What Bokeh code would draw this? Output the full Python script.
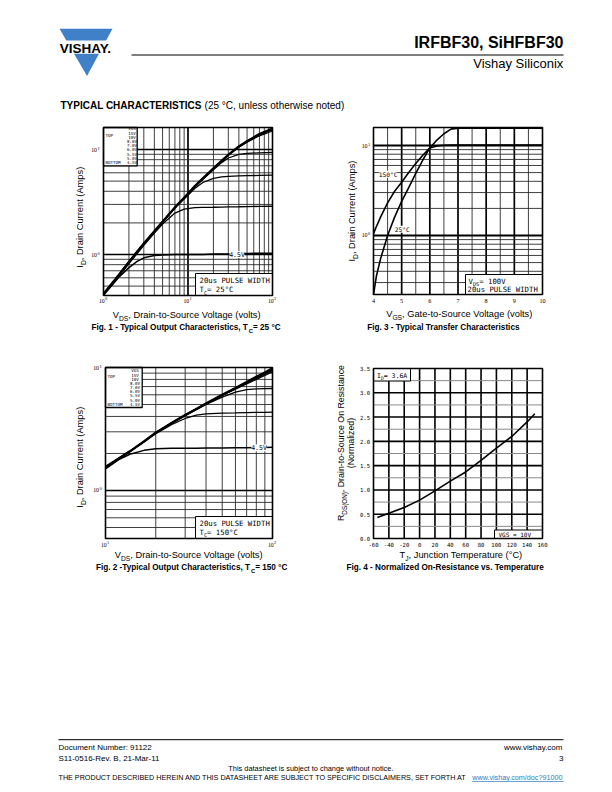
import math
from bokeh.plotting import figure
from bokeh.models import Range1d, LogScale, LinearScale, ColumnDataSource
from bokeh.core.properties import value
from bokeh.embed import file_html
from bokeh.resources import INLINE

# ===================== DATA =====================
# Fig. 1 - Typical Output Characteristics, Tc = 25 C  (VDS [V] -> ID [A])
fig1_vds = [1, 1.5, 2, 2.5, 3, 4, 5, 7, 9, 12, 15, 20, 25, 30, 40, 50, 70, 100]
fig1_id_15v = [0.42, 0.63, 0.85, 1.06, 1.27, 1.66, 2.05, 2.8, 3.47, 4.45, 5.3, 6.6, 7.8, 8.9, 10.7, 12.0, 14.0, 15.8]
fig1_id_10v = [0.42, 0.63, 0.85, 1.06, 1.27, 1.66, 2.05, 2.8, 3.47, 4.45, 5.3, 6.6, 7.8, 8.9, 10.7, 12.0, 13.95, 15.7]
fig1_id_8v = [0.42, 0.63, 0.85, 1.06, 1.27, 1.66, 2.05, 2.8, 3.47, 4.44, 5.29, 6.58, 7.78, 8.87, 10.65, 11.9, 13.8, 15.4]
fig1_id_7v = [0.42, 0.63, 0.85, 1.06, 1.27, 1.66, 2.05, 2.8, 3.46, 4.43, 5.27, 6.55, 7.74, 8.8, 10.5, 11.7, 13.5, 15.0]
fig1_id_6v = [0.42, 0.63, 0.85, 1.06, 1.27, 1.66, 2.05, 2.8, 3.45, 4.4, 5.2, 6.4, 7.5, 8.3, 9.0, 9.2, 9.3, 9.4]
fig1_id_55v = [0.42, 0.63, 0.85, 1.06, 1.27, 1.66, 2.04, 2.77, 3.38, 4.25, 4.85, 5.3, 5.48, 5.55, 5.6, 5.63, 5.66, 5.7]
fig1_id_5v = [0.41, 0.61, 0.82, 1.02, 1.22, 1.6, 1.95, 2.48, 2.7, 2.79, 2.81, 2.82, 2.83, 2.84, 2.85, 2.86, 2.87, 2.88]
fig1_id_45v = [0.41, 0.6, 0.75, 0.86, 0.93, 0.98, 0.99, 1.0, 1.0, 1.0, 1.0, 1.01, 1.01, 1.01, 1.02, 1.02, 1.03, 1.03]

# Fig. 2 - Typical Output Characteristics, Tc = 150 C
fig2_vds = [10, 12, 14, 17, 20, 25, 30, 35, 40, 50, 60, 70, 80, 90, 100]
fig2_id_15v = [1.55, 1.82, 2.08, 2.5, 2.95, 3.55, 4.1, 4.6, 5.1, 6.0, 6.8, 7.6, 8.4, 9.1, 9.85]
fig2_id_10v = [1.55, 1.82, 2.08, 2.5, 2.95, 3.55, 4.1, 4.6, 5.1, 6.0, 6.8, 7.58, 8.35, 9.02, 9.7]
fig2_id_8v = [1.55, 1.82, 2.08, 2.5, 2.95, 3.55, 4.1, 4.6, 5.09, 5.98, 6.76, 7.5, 8.25, 8.9, 9.55]
fig2_id_7v = [1.55, 1.82, 2.08, 2.5, 2.95, 3.55, 4.1, 4.59, 5.07, 5.95, 6.72, 7.44, 8.15, 8.78, 9.4]
fig2_id_6v = [1.55, 1.82, 2.08, 2.5, 2.95, 3.55, 4.09, 4.57, 5.05, 5.92, 6.66, 7.35, 8.0, 8.62, 9.25]
fig2_id_55v = [1.55, 1.82, 2.08, 2.5, 2.95, 3.55, 4.08, 4.55, 5.0, 5.75, 6.3, 6.6, 6.7, 6.73, 6.75]
fig2_id_5v = [1.55, 1.82, 2.08, 2.5, 2.9, 3.45, 3.85, 4.1, 4.2, 4.26, 4.28, 4.3, 4.31, 4.32, 4.33]
fig2_id_45v = [1.5, 1.78, 1.97, 2.12, 2.18, 2.2, 2.21, 2.21, 2.22, 2.22, 2.23, 2.23, 2.24, 2.24, 2.25]

# Fig. 3 - Typical Transfer Characteristics (VGS [V] -> ID [A])
fig3_vgs = [4.0, 4.1, 4.25, 4.5, 4.75, 5.0, 5.25, 5.5, 5.75, 6.0, 6.25, 6.5, 6.75, 7.0, 8.0, 9.0, 10.0]
fig3_id_150c = [1.05, 1.25, 1.6, 2.3, 3.1, 3.9, 5.0, 6.3, 7.8, 9.4, 9.9, 10.05, 10.1, 10.1, 10.1, 10.1, 10.1]
fig3_id_25c = [0.22, 0.35, 0.55, 1.0, 1.6, 2.4, 3.4, 4.9, 6.9, 9.4, 11.5, 13.5, 15.2, 15.6, 15.6, 15.6, 15.6]

# Fig. 4 - Normalized On-Resistance vs. Temperature
fig4_tj = [-55, -40, -20, 0, 20, 40, 60, 80, 100, 120, 140, 150]
fig4_rds = [0.43, 0.52, 0.64, 0.79, 0.98, 1.18, 1.37, 1.61, 1.86, 2.1, 2.4, 2.57]

# Tick values / labels
fig1_xticks = [1, 10, 100]
fig1_xexp = ["0", "1", "2"]
fig1_yticks = [1, 10]
fig1_yexp = ["0", "1"]
fig2_xticks = [10, 100]
fig2_xexp = ["1", "2"]
fig2_yticks = [1, 10]
fig2_yexp = ["0", "1"]
fig3_xticks = [4, 5, 6, 7, 8, 9, 10]
fig3_yticks = [1, 10]
fig3_yexp = ["0", "1"]
fig4_xticks = [-60, -40, -20, 0, 20, 40, 60, 80, 100, 120, 140, 160]
fig4_yticks = [0.0, 0.5, 1.0, 1.5, 2.0, 2.5, 3.0, 3.5]

# Grid line positions
log_minor_lo = [0.5, 0.6, 0.7, 0.8, 0.9, 2, 3, 4, 5, 6, 7, 8, 9]
fig1_vminor = [2, 3, 4, 5, 6, 7, 8, 9, 20, 30, 40, 50, 60, 70, 80, 90]
fig1_vmajor = [10]
fig1_hmajor = [1, 10]
fig2_vminor = [20, 30, 40, 50, 60, 70, 80, 90]
fig2_hmajor = [1]
fig3_vmajor = [5, 6, 7, 8, 9]
fig3_vminor = [4.5, 5.5, 6.5, 7.5, 8.5, 9.5]
fig3_hmajor = [1, 10]
fig3_hminor = [0.3, 0.4, 0.5, 0.6, 0.7, 0.8, 0.9, 2, 3, 4, 5, 6, 7, 8, 9]
fig4_vmajor = [-40, -20, 0, 20, 40, 60, 80, 100, 120, 140]
fig4_hmajor = [0.5, 1.0, 1.5, 2.0, 2.5, 3.0]
fig4_hminor = [0.25, 0.75, 1.25, 1.75, 2.25, 2.75, 3.25]

legend_vgs = ["VGS", "15V", "10V", "8.0V", "7.0V", "6.0V", "5.5V", "5.0V", "4.5V"]

# Page texts
title_text = "IRFBF30, SiHFBF30"
subtitle_text = "Vishay Siliconix"
logo_text = "VISHAY."
section_title = "TYPICAL CHARACTERISTICS"
section_note = "(25 °C, unless otherwise noted)"
fig1_caption = [("Fig. 1 - Typical Output Characteristics, T", "n"), ("C", "sub"), (" = 25 °C", "n")]
fig2_caption = [("Fig. 2 -Typical Output Characteristics, T", "n"), ("C", "sub"), (" = 150 °C", "n")]
fig3_caption = [("Fig. 3 - Typical Transfer Characteristics", "n")]
fig4_caption = [("Fig. 4 - Normalized On-Resistance vs. Temperature", "n")]
vds_label = [("V", "n"), ("DS", "sub"), (", Drain-to-Source Voltage (volts)", "n")]
vgs_label = [("V", "n"), ("GS", "sub"), (", Gate-to-Source Voltage (volts)", "n")]
id_label = [("I", "n"), ("D", "sub"), (", Drain Current (Amps)", "n")]
tj_label = [("T", "n"), ("J", "sub"), (", Junction Temperature (°C)", "n")]
rds_label = [("R", "n"), ("DS(ON)", "sub"), (", Drain-to-Source On Resistance", "n")]
rds_label2 = [("(Normalized)", "n")]
footer_doc = "Document Number: 91122"
footer_rev = "S11-0516-Rev. B, 21-Mar-11"
footer_web = "www.vishay.com"
footer_page = "3"
footer_notice = "This datasheet is subject to change without notice."
footer_disclaimer = "THE PRODUCT DESCRIBED HEREIN AND THIS DATASHEET ARE SUBJECT TO SPECIFIC DISCLAIMERS, SET FORTH AT "
footer_link = "www.vishay.com/doc?91000"

# ===================== STYLE / HELPERS =====================
SANS = "Liberation Sans"
MONO = "DejaVu Sans Mono"
SERIF = "Liberation Serif"
BLUE = "#3f80c8"
LINK = "#2b7cc2"
MID = 0.35   # cap-centre above the alphabetic baseline, in em

_N = {}
_N.update(zip(" !\"#$%&'()*+,-./", [278, 278, 355, 556, 556, 889, 667, 191, 333, 333, 389, 584, 278, 333, 278, 278]))
_N.update({d: 556 for d in "0123456789"})
_N.update(zip(":;<=>?@", [278, 278, 584, 584, 584, 556, 1015]))
_N.update(zip("ABCDEFGHIJKLMNOPQRSTUVWXYZ", [667, 667, 722, 722, 667, 611, 778, 722, 278, 500, 667, 556, 833, 722, 778, 667, 778, 722, 667, 611, 722, 667, 944, 667, 667, 611]))
_N.update(zip("abcdefghijklmnopqrstuvwxyz", [556, 556, 500, 556, 556, 278, 556, 556, 222, 222, 500, 222, 833, 556, 556, 556, 556, 333, 500, 278, 556, 500, 722, 500, 500, 500]))
_N.update({"°": 400, "_": 556})
_B = dict(_N)
_B.update(zip("!\"&':;?@", [333, 474, 722, 238, 333, 333, 611, 975]))
_B.update(zip("ABCDEFGHIJKLMNOPQRSTUVWXYZ", [722, 722, 722, 722, 667, 611, 778, 722, 278, 556, 722, 611, 833, 722, 778, 667, 778, 722, 667, 611, 722, 667, 944, 667, 667, 611]))
_B.update(zip("abcdefghijklmnopqrstuvwxyz", [556, 611, 556, 611, 556, 333, 611, 611, 278, 278, 556, 278, 889, 611, 611, 611, 611, 389, 556, 333, 611, 556, 778, 556, 556, 500]))


def tw(s, size, bold=False, font=SANS):
    if font == MONO:
        return 0.602 * size * len(s)
    if font == SERIF:
        return 0.5 * size * len(s)
    tab = _B if bold else _N
    return sum(tab.get(c, 556) for c in s) * size / 1000.0


TXT = {}


def put(x, y, s, size, bold=False, angle=0.0, color="black", font=SANS):
    """(x, y) is the left end of the alphabetic baseline; drawn with a 'middle' baseline."""
    if angle == 0.0:
        y = y - MID * size
    else:
        x = x - MID * size
    d = TXT.setdefault((font, bold), dict(x=[], y=[], text=[], size=[], angle=[], tcolor=[]))
    d["x"].append(x)
    d["y"].append(y)
    d["text"].append(s)
    d["size"].append("%.2fpx" % size)
    d["angle"].append(angle)
    d["tcolor"].append(color)


def rich(x, y, segs, size, bold=False, align="left", rotated=False, font=SANS, color="black"):
    sub = 0.72
    total = sum(tw(t, size * (sub if k != "n" else 1), bold, font) for t, k in segs)
    off = {"left": 0.0, "center": -total / 2.0, "right": -total}[align]
    for t, k in segs:
        s = size * (sub if k != "n" else 1)
        dy = {"n": 0.0, "sub": 0.3 * size, "sup": -0.4 * size}[k]
        if rotated:
            put(x + dy, y - off, t, s, bold, math.pi / 2, color, font)
        else:
            put(x + off, y + dy, t, s, bold, 0.0, color, font)
        off += tw(t, s, bold, font)
    return total


# ===================== FIGURE (page pixel coordinates) =====================
W, H = 612, 792
PX0, PX1, PTOP, PBOT = 0.0, 612.0, 0.0, 792.0

p = figure(width=W, height=H, x_range=Range1d(PX0, PX1), y_range=Range1d(PBOT, PTOP),
           x_axis_type=None, y_axis_type=None, output_backend="svg",
           toolbar_location=None, min_border=0, title=None)
p.outline_line_color = None
p.background_fill_color = "white"
p.border_fill_color = "white"

# chart frames (page pixel rectangles) and data limits
CH = {
    "c1": dict(L=103, R=272, T=127, B=295, xlim=(1, 100), ylim=(0.407, 16.2), xlog=True, ylog=True),
    "c2": dict(L=105, R=272, T=367, B=538, xlim=(10, 100), ylim=(0.407, 10.0), xlog=True, ylog=True),
    "c3": dict(L=373, R=542, T=127, B=294, xlim=(4, 10), ylim=(0.221, 15.85), xlog=False, ylog=True),
    "c4": dict(L=373, R=542, T=368, B=538, xlim=(-60, 160), ylim=(0.0, 3.5), xlog=False, ylog=False),
}


def mapv(px, p0, p1, v0, v1, log):
    t = (px - p0) / float(p1 - p0)
    if log:
        a, b = math.log10(v0), math.log10(v1)
        return 10 ** (a + t * (b - a))
    return v0 + t * (v1 - v0)


xr, yr, xs, ys = {}, {}, {}, {}
for n, c in CH.items():
    xr[n] = Range1d(mapv(PX0, c["L"], c["R"], c["xlim"][0], c["xlim"][1], c["xlog"]),
                    mapv(PX1, c["L"], c["R"], c["xlim"][0], c["xlim"][1], c["xlog"]))
    yr[n] = Range1d(mapv(PBOT, c["B"], c["T"], c["ylim"][0], c["ylim"][1], c["ylog"]),
                    mapv(PTOP, c["B"], c["T"], c["ylim"][0], c["ylim"][1], c["ylog"]))
    xs[n] = LogScale() if c["xlog"] else LinearScale()
    ys[n] = LogScale() if c["ylog"] else LinearScale()
p.extra_x_ranges = xr
p.extra_y_ranges = yr
p.extra_x_scales = xs
p.extra_y_scales = ys


def kw(n):
    return dict(x_range_name=n, y_range_name=n)


def vlines(n, vals, color, width):
    y0, y1 = CH[n]["ylim"]
    p.segment(x0=vals, x1=vals, y0=[y0] * len(vals), y1=[y1] * len(vals),
              line_color=color, line_width=width, **kw(n))


def hlines(n, vals, color, width):
    x0, x1 = CH[n]["xlim"]
    p.segment(x0=[x0] * len(vals), x1=[x1] * len(vals), y0=vals, y1=vals,
              line_color=color, line_width=width, **kw(n))


def frame(n):
    c = CH[n]
    p.quad(left=[c["xlim"][0]], right=[c["xlim"][1]], bottom=[c["ylim"][0]], top=[c["ylim"][1]],
           fill_color=None, line_color="black", line_width=1.6, **kw(n))


def box(l, t, r, b, lw=1.0):
    p.quad(left=[l], right=[r], top=[t], bottom=[b], fill_color="white", line_color="black", line_width=lw)


# ---------- grids ----------
MINC, MINW, MAJW = "#2a2a2a", 0.9, 1.7
vlines("c1", fig1_vminor, MINC, MINW); vlines("c1", fig1_vmajor, "black", MAJW)
hlines("c1", log_minor_lo, MINC, MINW); hlines("c1", fig1_hmajor, "black", MAJW)
vlines("c2", fig2_vminor, MINC, MINW)
hlines("c2", log_minor_lo, MINC, MINW); hlines("c2", fig2_hmajor, "black", MAJW)
vlines("c3", fig3_vminor, MINC, MINW); vlines("c3", fig3_vmajor, "black", MAJW)
hlines("c3", fig3_hminor, MINC, MINW); hlines("c3", fig3_hmajor, "black", 2.2)
vlines("c4", fig4_vmajor, "black", 1.6)
hlines("c4", fig4_hminor, "#8a8a8a", 1.0); hlines("c4", fig4_hmajor, "black", 1.6)

# ---------- annotation boxes ----------
box(103, 127, 136.7, 165.3, 1.3)     # fig1 legend
box(195, 273, 272, 295)               # fig1 pulse note
box(105, 367, 141.7, 407, 1.3)       # fig2 legend
box(195, 516, 272, 538)               # fig2 pulse note
box(465, 274, 542, 294)               # fig3 note
box(373, 368, 410, 380.5)             # fig4 ID note
box(494, 529.5, 542, 538)             # fig4 VGS note

# ---------- curves ----------
for ys_, w in [(fig1_id_45v, 1.5), (fig1_id_5v, 1.3), (fig1_id_55v, 1.3), (fig1_id_6v, 1.3),
               (fig1_id_7v, 1.2), (fig1_id_8v, 1.2), (fig1_id_10v, 1.4), (fig1_id_15v, 2.4)]:
    p.line(fig1_vds, ys_, line_color="black", line_width=w, **kw("c1"))
for ys_, w in [(fig2_id_45v, 1.5), (fig2_id_5v, 1.3), (fig2_id_55v, 1.3), (fig2_id_6v, 1.2),
               (fig2_id_7v, 1.2), (fig2_id_8v, 1.2), (fig2_id_10v, 1.4), (fig2_id_15v, 2.4)]:
    p.line(fig2_vds, ys_, line_color="black", line_width=w, **kw("c2"))
p.line(fig3_vgs, fig3_id_150c, line_color="black", line_width=1.6, **kw("c3"))
p.line(fig3_vgs, fig3_id_25c, line_color="black", line_width=1.6, **kw("c3"))
p.line(fig4_tj, fig4_rds, line_color="black", line_width=1.6, **kw("c4"))

# in-chart curve labels (data coordinates)
p.rect(x=[38], y=[1.0], width=15, height=7, width_units="screen", height_units="screen",
       fill_color="white", line_color=None, **kw("c1"))
p.text(x=[38], y=[1.0], text=["4.5V"], text_align="center", text_baseline="middle",
       text_font=value(MONO), text_font_size="6.5px", **kw("c1"))
p.rect(x=[83], y=[2.22], width=15, height=7, width_units="screen", height_units="screen",
       fill_color="white", line_color=None, **kw("c2"))
p.text(x=[83], y=[2.22], text=["4.5V"], text_align="center", text_baseline="middle",
       text_font=value(MONO), text_font_size="6.5px", **kw("c2"))
p.rect(x=[4.52, 5.02], y=[4.8, 1.17], width=[18, 15], height=7, width_units="screen", height_units="screen",
       fill_color="white", line_color=None, **kw("c3"))
p.text(x=[4.52, 5.02], y=[4.8, 1.17], text=["150°C", "25°C"], text_align="center", text_baseline="middle",
       text_font=value(MONO), text_font_size="6.2px", **kw("c3"))

for n in CH:
    frame(n)


# ---------- tick labels ----------
def log_xticks(n, ticks, exps, mid_y):
    p.text(x=ticks, y=[mid_y] * len(ticks), text=["10"] * len(ticks), text_align="right", x_offset=1.2,
           text_baseline="middle", text_font=value(SERIF), text_font_size="5.8px", x_range_name=n)
    p.text(x=ticks, y=[mid_y - 2.4] * len(ticks), text=exps, text_align="left", x_offset=1.4,
           text_baseline="middle", text_font=value(SERIF), text_font_size="4.4px", x_range_name=n)


def log_yticks(n, ticks, exps, right_x):
    p.text(x=[right_x] * len(ticks), y=ticks, text=["10"] * len(ticks), text_align="right",
           text_baseline="middle", text_font=value(SERIF), text_font_size="5.8px", y_range_name=n)
    p.text(x=[right_x + 0.4] * len(ticks), y=ticks, text=exps, text_align="left",
           text_baseline="bottom", text_font=value(SERIF), text_font_size="4.4px", y_range_name=n)


log_xticks("c1", fig1_xticks, fig1_xexp, 300.5)
log_yticks("c1", fig1_yticks, fig1_yexp, 96.5)
log_xticks("c2", fig2_xticks, fig2_xexp, 544.5)
log_yticks("c2", fig2_yticks, fig2_yexp, 98.5)
log_yticks("c3", fig3_yticks, fig3_yexp, 367)
p.text(x=fig3_xticks, y=[300] * len(fig3_xticks), text=[str(v) for v in fig3_xticks], text_align="center",
       text_baseline="middle", text_font=value(SERIF), text_font_size="6.2px", x_range_name="c3")
p.text(x=fig4_xticks, y=[544.3] * len(fig4_xticks), text=[str(v) for v in fig4_xticks], text_align="center",
       text_baseline="middle", text_font=value(MONO), text_font_size="5.6px", x_range_name="c4")
p.text(x=[369.5] * len(fig4_yticks), y=fig4_yticks, text=["%.1f" % v for v in fig4_yticks], text_align="right",
       text_baseline="middle", text_font=value(MONO), text_font_size="5.6px", y_range_name="c4")

# ---------- in-chart notes (page coordinates, alphabetic baselines) ----------
put(105, 136.5, "TOP", 4.2, font=MONO)
put(105, 163.2, "BOTTOM", 4.2, font=MONO)
for i, s in enumerate(legend_vgs):
    put(131.5 - tw(s, 4.2, font=MONO) / 2, 129.8 + i * 4.2, s, 4.2, font=MONO)
put(107, 377.5, "TOP", 4.2, font=MONO)
put(107, 405.2, "BOTTOM", 4.2, font=MONO)
for i, s in enumerate(legend_vgs):
    put(134.5 - tw(s, 4.2, font=MONO) / 2, 371.8 + i * 4.17, s, 4.2, font=MONO)

put(199, 282.8, "20us PULSE WIDTH", 7.3, font=MONO)
rich(199, 292, [("T", "n"), ("C", "sub"), (" = 25°C", "n")], 7.3, font=MONO)
put(199, 525.3, "20us PULSE WIDTH", 7.3, font=MONO)
rich(199, 534.3, [("T", "n"), ("C", "sub"), (" = 150°C", "n")], 7.3, font=MONO)
rich(468, 283.3, [("V", "n"), ("DS", "sub"), (" = 100V", "n")], 7.3, font=MONO)
put(467, 292, "20us PULSE WIDTH", 7.3, font=MONO)
rich(376.5, 377.3, [("I", "n"), ("D", "sub"), (" = 3.6A", "n")], 6.5, font=MONO)
put(498, 536.3, "VGS = 10V", 6.0, font=MONO)

# ---------- axis labels and captions ----------
LBL = 9.3
rich(186.5, 318, vds_label, LBL, align="center")
rich(459, 316.5, vgs_label, LBL, align="center")
rich(188.5, 557.8, vds_label, LBL, align="center")
rich(461, 557.3, tj_label, LBL, align="center")
rich(83, 216.7, id_label, LBL, align="center", rotated=True)
rich(355, 210.5, id_label, LBL, align="center", rotated=True)
rich(83, 456.7, id_label, LBL, align="center", rotated=True)
rich(343.2, 442.5, rds_label, 8.8, align="center", rotated=True)
rich(353.5, 442.5, rds_label2, 8.8, align="center", rotated=True)

CAP = 8.2
rich(186.7, 330, fig1_caption, CAP, bold=True, align="center")
rich(443.5, 330, fig3_caption, CAP, bold=True, align="center")
rich(192.3, 570, fig2_caption, CAP, bold=True, align="center")
rich(445, 570, fig4_caption, CAP, bold=True, align="center")

# ---------- header ----------
p.patch([59, 112, 86.5], [28.3, 28.3, 75.5], fill_color=BLUE, line_color=None)
p.quad(left=[50], right=[122], top=[40], bottom=[53.3], fill_color="white", line_color=None)
rich(86.3, 52.6, [(logo_text, "n")], 13.5, bold=True, align="center")
rich(563, 48, [(title_text, "n")], 16, bold=True, align="right")
p.segment(x0=[131], x1=[563], y0=[54.5], y1=[54.5], line_color="black", line_width=1.2)
rich(563, 67.5, [(subtitle_text, "n")], 13, align="right")
wb = rich(60, 108.7, [(section_title, "n")], 10, bold=True)
rich(60 + wb + 3, 108.7, [(section_note, "n")], 10)

# ---------- footer ----------
p.segment(x0=[58], x1=[563], y0=[739.2], y1=[739.2], line_color="black", line_width=1.0)
rich(58, 750, [(footer_doc, "n")], 8)
rich(563, 750, [(footer_web, "n")], 8, align="right")
rich(58, 760.4, [(footer_rev, "n")], 8)
rich(563, 760.4, [(footer_page, "n")], 8, align="right")
rich(310.5, 771, [(footer_notice, "n")], 7.4, align="center")
fs = 505.0 / (tw(footer_disclaimer + footer_link, 1.0))
w1 = rich(58, 779.6, [(footer_disclaimer, "n")], fs)
w2 = rich(58 + w1, 779.6, [(footer_link, "n")], fs, color=LINK)
p.segment(x0=[58 + w1], x1=[58 + w1 + w2], y0=[781], y1=[781], line_color=LINK, line_width=0.7)

# ---------- emit all page texts ----------
for (font, bold), d in TXT.items():
    p.text(x="x", y="y", text="text", source=ColumnDataSource(d), text_font=value(font),
           text_font_style="bold" if bold else "normal", text_font_size="size", angle="angle",
           text_color="tcolor", text_align="left", text_baseline="middle")

open("out.html", "w").write(file_html(p, INLINE))
